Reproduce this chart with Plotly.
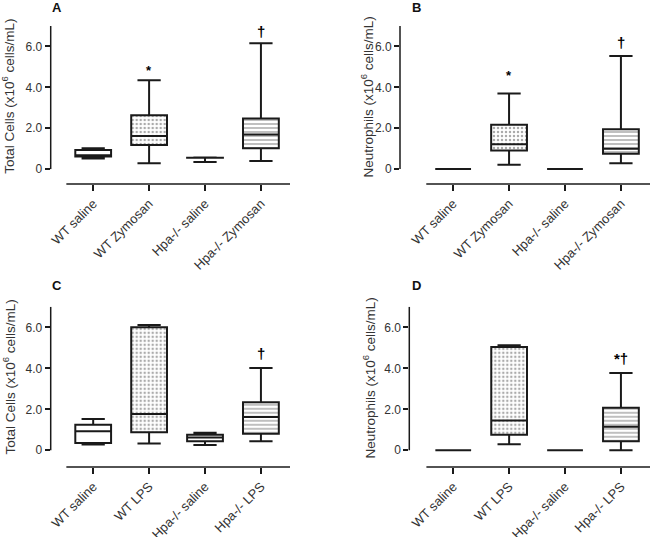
import plotly.graph_objects as go

W, H = 651, 537

cats_zym = ["WT saline", "WT Zymosan", "Hpa-/- saline", "Hpa-/- Zymosan"]
cats_lps = ["WT saline", "WT LPS", "Hpa-/- saline", "Hpa-/- LPS"]
tick_vals = [0, 2, 4, 6]
tick_text = ["0", "2.0", "4.0", "6.0"]

# Panel A - Total cells, zymosan
a_min = [0.52, 0.29, 0.35, 0.39]
a_q1 = [0.62, 1.18, 0.55, 1.02]
a_med = [0.68, 1.62, 0.55, 1.69]
a_q3 = [0.93, 2.63, 0.56, 2.48]
a_max = [1.02, 4.35, 0.57, 6.16]

# Panel B - Neutrophils, zymosan
b_min = [0, 0.21, 0, 0.28]
b_q1 = [0, 0.91, 0, 0.75]
b_med = [0, 1.22, 0, 0.99]
b_q3 = [0, 2.17, 0, 1.95]
b_max = [0, 3.70, 0, 5.53]

# Panel C - Total cells, LPS
c_min = [0.28, 0.33, 0.26, 0.44]
c_q1 = [0.36, 0.88, 0.44, 0.81]
c_med = [0.93, 1.77, 0.63, 1.63]
c_q3 = [1.25, 6.00, 0.76, 2.34]
c_max = [1.53, 6.11, 0.86, 4.02]

# Panel D - Neutrophils, LPS
d_min = [0, 0.29, 0, 0.0]
d_q1 = [0, 0.76, 0, 0.44]
d_med = [0, 1.45, 0, 1.15]
d_q3 = [0, 5.04, 0, 2.07]
d_max = [0, 5.12, 0, 3.77]

# significance marks: (category index, y value, text)
a_marks = [(1, 4.83, "*"), (3, 6.75, "†")]
b_marks = [(1, 4.57, "*"), (3, 6.2, "†")]
c_marks = [(3, 4.7, "†")]
d_marks = [(3, 4.5, "*†")]

patterns = ["", ".", "", "-"]
pat_colors = ["#ffffff", "#555555", "#ffffff", "#2a2a2a"]

panels = [
    dict(cats=cats_zym, mn=a_min, q1=a_q1, med=a_med, q3=a_q3, mx=a_max, marks=a_marks,
         label="A", title="Total Cells (x10<sup>6</sup> cells/mL)", tpos=(8, 96.7),
         xdom=(50.7, 290), xr=(-0.76, 3.52), ydom=(184, 26), yr=(-0.73, 7.0), lab=(57, 7)),
    dict(cats=cats_zym, mn=b_min, q1=b_q1, med=b_med, q3=b_q3, mx=b_max, marks=b_marks,
         label="B", title="Neutrophils (x10<sup>6</sup> cells/mL)", tpos=(367, 97.5),
         xdom=(400, 650), xr=(-0.95, 3.52), ydom=(184, 26), yr=(-0.73, 7.0), lab=(416, 7)),
    dict(cats=cats_lps, mn=c_min, q1=c_q1, med=c_med, q3=c_q3, mx=c_max, marks=c_marks,
         label="C", title="Total Cells (x10<sup>6</sup> cells/mL)", tpos=(9, 377.5),
         xdom=(50.7, 290), xr=(-0.76, 3.52), ydom=(467, 306.8), yr=(-0.815, 7.0), lab=(57, 285)),
    dict(cats=cats_lps, mn=d_min, q1=d_q1, med=d_med, q3=d_q3, mx=d_max, marks=d_marks,
         label="D", title="Neutrophils (x10<sup>6</sup> cells/mL)", tpos=(369, 378.5),
         xdom=(409.3, 650), xr=(-0.786, 3.52), ydom=(467, 306.8), yr=(-0.815, 7.0), lab=(416, 285)),
]

FONT = "Liberation Sans, Arial, sans-serif"
INK = "#1a1a1a"
TXT = "#333333"

fig = go.Figure()
shapes = []
annotations = []
layout = {}

for i, p in enumerate(panels, start=1):
    sx = "" if i == 1 else str(i)
    xa, ya = "x" + sx, "y" + sx
    heights = [b - a for a, b in zip(p["q1"], p["q3"])]
    fig.add_trace(go.Bar(
        x=p["cats"], y=heights, base=p["q1"], width=0.64,
        marker=dict(color="white", line=dict(width=0),
                    pattern=dict(shape=patterns, fgcolor=pat_colors, bgcolor="white",
                                 size=4, solidity=0.3)),
        xaxis=xa, yaxis=ya, showlegend=False, hoverinfo="skip"))
    fig.add_trace(go.Box(
        x=p["cats"], q1=p["q1"], median=p["med"], q3=p["q3"],
        lowerfence=p["mn"], upperfence=p["mx"], width=0.64, whiskerwidth=0.65,
        fillcolor="rgba(0,0,0,0)", line=dict(color=INK, width=2),
        boxpoints=False, xaxis=xa, yaxis=ya, showlegend=False))

    layout["xaxis" + sx] = dict(
        domain=[p["xdom"][0] / W, p["xdom"][1] / W], range=list(p["xr"]), anchor=ya,
        type="category", categoryorder="array", categoryarray=p["cats"],
        showline=False, showgrid=False, zeroline=False, automargin=False,
        ticks="outside", ticklen=6, tickwidth=1.5, tickcolor=INK, tickangle=-45,
        tickfont=dict(family=FONT, size=13, color=TXT))
    layout["yaxis" + sx] = dict(
        domain=[1 - p["ydom"][0] / H, 1 - p["ydom"][1] / H], range=list(p["yr"]), anchor=xa,
        tickvals=tick_vals, ticktext=tick_text, showline=False, showgrid=False, zeroline=False,
        automargin=False, ticks="outside", ticklen=5, tickwidth=1.5, tickcolor=INK,
        tickfont=dict(family=FONT, size=12, color=TXT))

    # axis lines (Prism style: y line from 0 up, x line offset below)
    shapes.append(dict(type="line", xref=xa + " domain", yref=ya, x0=0, x1=0,
                       y0=0, y1=p["yr"][1], line=dict(color=INK, width=1.5)))
    shapes.append(dict(type="line", xref=xa, yref=ya + " domain", x0=-0.48, x1=p["xr"][1],
                       y0=0, y1=0, line=dict(color=INK, width=1.5)))

    annotations.append(dict(text=p["title"], xref="paper", yref="paper", textangle=-90,
                            x=p["tpos"][0] / W, y=1 - p["tpos"][1] / H, xanchor="center",
                            yanchor="middle", showarrow=False,
                            font=dict(family=FONT, size=13.5, color=TXT)))
    annotations.append(dict(text="<b>" + p["label"] + "</b>", xref="paper", yref="paper",
                            x=p["lab"][0] / W, y=1 - p["lab"][1] / H, xanchor="center",
                            yanchor="middle", showarrow=False,
                            font=dict(family=FONT, size=13, color="#111")))
    for ci, yv, t in p["marks"]:
        annotations.append(dict(text="<b>" + t + "</b>", xref=xa, yref=ya, x=p["cats"][ci], y=yv,
                                showarrow=False, xanchor="center", yanchor="middle",
                                font=dict(family=FONT, size=15 if "†" in t else 13, color="#000000")))

fig.update_layout(
    width=W, height=H, margin=dict(l=0, r=0, t=0, b=0),
    paper_bgcolor="white", plot_bgcolor="white",
    shapes=shapes, annotations=annotations, bargap=0, **layout)

fig.write_html("out.html", config={"displayModeBar": False},
               post_script="document.body.style.margin='0';")
